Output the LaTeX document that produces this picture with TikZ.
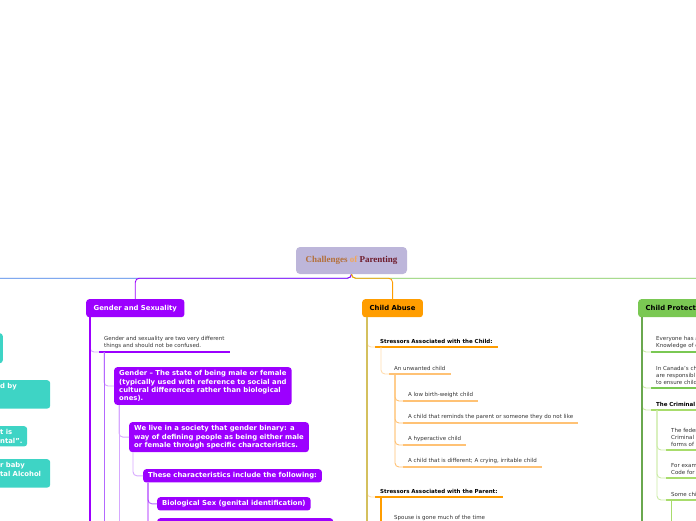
\documentclass[tikz,border=0pt]{standalone}
\usepackage{fontspec}
\setmainfont{DejaVu Sans}
\newfontfamily\titlefont{Liberation Serif}
\usetikzlibrary{positioning}
\definecolor{MapLilac}{HTML}{BDB6DA}
\definecolor{MapBlue}{HTML}{3C7BE6}
\definecolor{MapPurple}{HTML}{9C00FF}
\definecolor{MapPurpleMid}{HTML}{B468FF}
\definecolor{MapPurpleLight}{HTML}{D6A8FF}
\definecolor{MapOrange}{HTML}{FF9D00}
\definecolor{MapOrangeLight}{HTML}{FFC275}
\definecolor{MapOrangePale}{HTML}{FFDDB0}
\definecolor{MapGold}{HTML}{D4C05E}
\definecolor{MapGreen}{HTML}{7AC853}
\definecolor{MapGreenDark}{HTML}{6AA84F}
\definecolor{MapGreenLight}{HTML}{A8DC6C}
\definecolor{MapGreenPale}{HTML}{CBEBA6}
\definecolor{MapTeal}{HTML}{3ED4C5}
\definecolor{MapBrown}{HTML}{B4703A}
\definecolor{MapTan}{HTML}{F2A65A}
\definecolor{MapMaroon}{HTML}{6E1B2B}
\definecolor{MapText}{HTML}{333333}

\begin{document}
\begin{tikzpicture}[x=1pt, y=-1pt,
  branch/.style={rounded corners=3, fill=MapPurple, text=white, font=\fontsize{6.85}{8.3}\selectfont\bfseries,
    inner xsep=5, inner ysep=3.3, align=left, anchor=north west},
  topic/.style={branch, minimum height=18, inner xsep=7.5},
  note/.style={anchor=south west, align=left, inner xsep=5, inner ysep=3, text=MapText,
    font=\fontsize{5.5}{7.2}\selectfont},
  bnote/.style={note, text=black, font=\fontsize{5.5}{7.2}\selectfont\bfseries},
  link/.style={rounded corners=4, line width=0.9},
  uline/.style={line width=2}]

% Frame
\useasboundingbox (0,0) rectangle (696,520);
\clip (0,0) rectangle (696,520);

% Central topic and main branches
\node[rounded corners=4, fill=MapLilac, minimum width=111, minimum height=27,
  font=\titlefont\bfseries\fontsize{9}{10}\selectfont] (title) at (351.5,260.5)
  {\textcolor{MapBrown}{Challenges} \textcolor{MapTan}{of} \textcolor{MapMaroon}{Parenting}};
\node[topic] (gender) at (86,299) {Gender and Sexuality};
\node[topic, fill=MapOrange, text=black] (abuse) at (362,299) {Child Abuse};
\node[topic, fill=MapGreen, text=black, text width=115] (protect) at (638,299) {Child Protection};
\coordinate (tqroot) at (-20,300);

% Turquoise branch (cut at the left edge)
\node[branch, fill=MapTeal, anchor=north east, minimum width=60, minimum height=30] (tq1) at (3,333) {};
\node[branch, fill=MapTeal, text width=45] (tq2) at (-5,380) {d by\\~\\~};
\node[branch, fill=MapTeal, text width=22] (tq3) at (-5,426) {t is\\ntal”.};
\node[branch, fill=MapTeal, text width=45] (tq4) at (-5,459) {r baby\\tal Alcohol\\~};

% Gender and Sexuality
\node[note] (gnote) at (99,352) {Gender and sexuality are two very different\\things and should not be confused.};
\node[branch] (gdef) at (114,367) {Gender – The state of being male or female\\(typically used with reference to social and\\cultural differences rather than biological\\ones).};
\node[branch] (binary) at (129,422) {We live in a society that gender binary: a\\way of defining people as being either male\\or female through specific characteristics.};
\node[branch] (traits) at (143,469) {These characteristics include the following:};
\node[branch] (biosex) at (157,497) {Biological Sex (genital identification)};
\node[branch, minimum width=176, minimum height=20] (gnext) at (157,518) {};
\draw[uline, MapPurple] (gnote.south west) -- (gnote.south east);
\coordinate (gend1) at (90,530);
\coordinate (gend2) at (104,530);
\coordinate (gend3) at (119,530);

% Child Abuse
\node[bnote] (childstress) at (375,347) {Stressors Associated with the Child:};
\node[note] (unwanted) at (389,374) {An unwanted child};
\node[bnote] (parentstress) at (375,497) {Stressors Associated with the Parent:};
\node[note] (spouse) at (389,524) {Spouse is gone much of the time};
\draw[uline, line width=2.5, MapOrange] (childstress.south west) -- (childstress.south east);
\draw[uline, line width=2.5, MapOrange] (parentstress.south west) -- (parentstress.south east);
\draw[uline, MapOrangeLight] (unwanted.south west) -- (unwanted.south east);
\foreach \n/\y/\txt in {lowweight/401/A low birth-weight child,
  reminds/423/A child that reminds the parent or someone they do not like,
  hyper/445/A hyperactive child,
  different/467/{A child that is different; A crying, irritable child}}
{
  \node[note] (\n) at (403,\y) {\txt};
  \draw[uline, MapOrangeLight] (\n.south west) -- (\n.south east);
  \draw[link, MapOrangeLight] ([xshift=6]unwanted.south west) |- (\n.south west);
}
\coordinate (aend1) at (367,530);
\coordinate (aend2) at (381,530);

% Child Protection (cut at the right edge)
\node[note, text width=80] (everyone) at (651,352) {Everyone has a\\Knowledge of c};
\node[note, text width=80] (canada) at (651,388) {In Canada's ch\\are responsibl\\to ensure child};
\node[bnote, text width=80] (criminal) at (651,410) {The Criminal};
\node[note, text width=60] (federal) at (666,450) {The feder\\Criminal C\\forms of a};
\node[note, text width=60] (example) at (666,478) {For exam\\Code for a};
\node[note, text width=60] (somechild) at (666,500) {Some chi};
\draw[uline, MapGreen] (everyone.south west) -- (everyone.south east);
\draw[uline, MapGreen] (canada.south west) -- (canada.south east);
\draw[uline, MapGreenLight] (criminal.south west) -- (criminal.south east);
\foreach \n in {federal, example, somechild}
  \draw[uline, MapGreenLight] (\n.south west) -- (\n.south east);
\coordinate (pend1) at (642,530);
\coordinate (pend2) at (671,530);

% Connectors from the central topic
\draw[link, MapBlue] (title.south) -- ++(0,4) -| (tqroot);
\draw[link, MapGreen] (title.south) -- ++(0,4) -| (protect.north);
\draw[link, MapPurple] (title.south) -- ++(0,4) -| (gender.north);
\draw[link, MapOrange] (title.south) -- ++(0,4) -| (abuse.north);

% Gender connectors
\draw[link, MapPurpleLight] ([xshift=4]gender.south west) |- (gnote.south west);
\draw[link, MapPurpleLight] ([xshift=5]gnote.south west) |- (gdef.west);
\draw[link, MapPurpleLight] ([xshift=5]gdef.south west) |- (binary.west);
\draw[link, MapPurpleLight] ([xshift=4]binary.south west) |- (traits.west);
\draw[link, MapPurpleMid] ([xshift=5]traits.south west) |- (biosex.west);
\draw[link, MapPurple] ([xshift=5]traits.south west) |- (gnext.west);
\draw[line width=1.2, MapPurple] ([xshift=4]gender.south west) -- (gend1);
\draw[line width=0.9, MapPurpleMid] ([xshift=5]gnote.south west) -- (gend2);
\draw[line width=0.9, MapPurpleLight] ([xshift=5]gdef.south west) -- (gend3);

% Abuse connectors
\draw[link, MapOrangePale] ([xshift=5]abuse.south west) |- (childstress.south west);
\draw[link, MapOrangePale] ([xshift=5]abuse.south west) |- (parentstress.south west);
\draw[link, MapOrangePale] ([xshift=6]childstress.south west) |- (unwanted.south west);
\draw[link, MapOrange] ([xshift=6]parentstress.south west) |- (spouse.south west);
\draw[line width=1.2, MapGold] ([xshift=5]abuse.south west) -- (aend1);
\draw[line width=1.2, MapOrange] ([xshift=6]parentstress.south west) -- (aend2);

% Protection connectors
\foreach \n in {everyone, canada, criminal}
  \draw[link, MapGreenPale] ([xshift=4]protect.south west) |- (\n.south west);
\foreach \n in {federal, example, somechild}
  \draw[link, MapGreenPale] ([xshift=6]criminal.south west) |- (\n.south west);
\draw[line width=1.2, MapGreenDark] ([xshift=4]protect.south west) -- (pend1);
\draw[line width=0.9, MapGreenLight] ([xshift=5]somechild.south west) -- (pend2);
\end{tikzpicture}
\end{document}
